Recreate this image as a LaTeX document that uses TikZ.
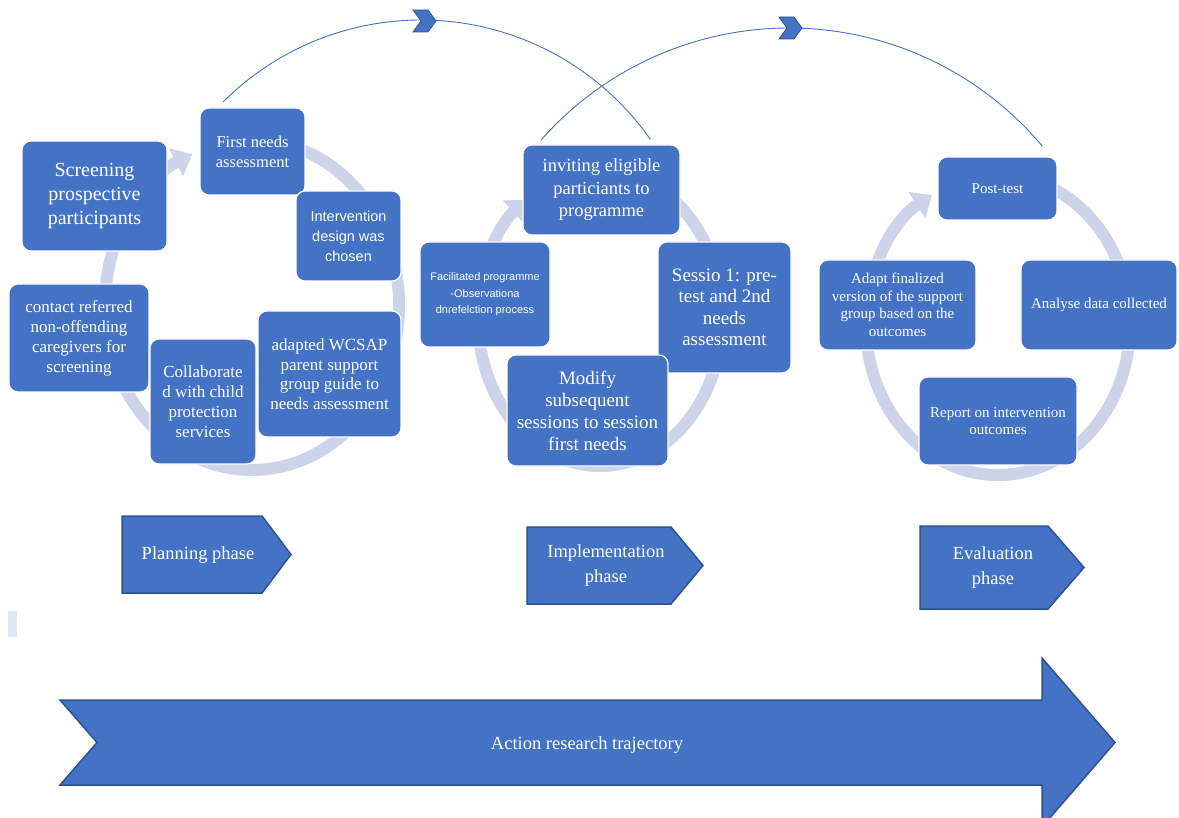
\documentclass[tikz,border=0pt]{standalone}
\usepackage{fontspec}
\setmainfont{Liberation Serif}
\setsansfont{Liberation Sans}
\usetikzlibrary{arrows.meta}
\definecolor{boxblue}{HTML}{4472C4}
\definecolor{ringblue}{HTML}{CDD4EA}
\definecolor{edgeblue}{HTML}{2F528F}
\definecolor{barblue}{HTML}{DDE7F7}
\newcommand{\fs}[2]{\fontsize{#1}{#2}\selectfont}

\begin{document}
\begin{tikzpicture}[x=1pt, y=-1pt,
	stepbox/.style={fill=boxblue, draw=white, line width=1.2pt, rounded corners=9pt, text=white, align=center, inner sep=2pt},
	ring/.style={ringblue, line width=12pt, -{Triangle[length=18pt,width=30pt]}},
	bogen/.style={boxblue, line width=0.9pt},
	chevron/.style={fill=boxblue, draw=edgeblue, line width=0.8pt, line join=miter},
	phase/.style={fill=boxblue, draw=edgeblue, line width=1.5pt},
	phasetext/.style={text=white, align=center, font=\fs{18.5}{25}}]
	\useasboundingbox (0,0) rectangle (1179,818);
	\clip (0,0) rectangle (1179,818);
	
	% Zyklen (Ringe)
	\draw[ring] (252,305) ++(-90:147 and 165) arc[start angle=-90, end angle=246, x radius=147, y radius=165];
	\draw[ring] (600,318) ++(-90:122 and 148) arc[start angle=-90, end angle=233, x radius=122, y radius=148];
	\draw[ring] (998,325) ++(-90:132 and 150) arc[start angle=-90, end angle=240, x radius=132, y radius=150];
	
	% Boegen oben
	\coordinate (m1) at (421,300);
	\coordinate (m2) at (789,358.6);
	\draw[bogen] (m1) ++(-135:280) arc[start angle=-135, end angle=-35, radius=280];
	\draw[bogen] (m2) ++(-138.6:330.6) arc[start angle=-138.6, end angle=-40, radius=330.6];
	\draw[chevron] (413,10) -- (428,10) -- (436,21) -- (428,32) -- (413,32) -- (421,21) -- cycle;
	\draw[chevron] (779,17) -- (794,17) -- (802,28) -- (794,39) -- (779,39) -- (787,28) -- cycle;
	
	% Planungsphase
	\node[stepbox, minimum width=145pt, minimum height=110pt, font=\fs{20}{24}] (screen) at (94.5,196) {Screening\\prospective\\participants};
	\node[stepbox, minimum width=105pt, minimum height=87pt, font=\fs{16.5}{20}] (firstneeds) at (252.5,151.5) {First needs\\assessment};
	\node[stepbox, minimum width=105pt, minimum height=90pt, font=\sffamily\fs{14.5}{20}] (design) at (348.5,236) {Intervention\\design was\\chosen};
	\node[stepbox, minimum width=140pt, minimum height=108pt, font=\fs{17}{20}] (contact) at (79,338) {contact referred\\non-offending\\caregivers for\\screening};
	\node[stepbox, minimum width=106pt, minimum height=125pt, font=\fs{17}{20}] (collab) at (203,401.5) {Collaborate\\d with child\\protection\\services};
	\node[stepbox, minimum width=143pt, minimum height=126pt, font=\fs{17}{19.5}] (wcsap) at (329.5,374) {adapted WCSAP\\parent support\\group guide to\\needs assessment};
	
	% Umsetzungsphase
	\node[stepbox, minimum width=157pt, minimum height=90pt, font=\fs{18.5}{22.5}] (invite) at (601.5,190) {inviting eligible\\particiants to\\programme};
	\node[stepbox, minimum width=130pt, minimum height=105pt, font=\sffamily\fs{11}{16.5}] (facil) at (485,294.5) {Facilitated programme\\-Observationa\\dnrefelction process};
	\node[stepbox, minimum width=133pt, minimum height=131pt, font=\fs{19}{21.5}] (session) at (724.5,307.5) {Sessio 1: pre-\\test and 2nd\\needs\\assessment};
	\node[stepbox, minimum width=161pt, minimum height=111pt, font=\fs{19}{22}] (modify) at (587.5,410.5) {Modify\\subsequent\\sessions to session\\first needs};
	
	% Evaluationsphase
	\node[stepbox, minimum width=119pt, minimum height=63pt, font=\fs{15}{17}] (posttest) at (997.5,188.5) {Post-test};
	\node[stepbox, minimum width=156pt, minimum height=90pt, font=\fs{15}{17}] (analyse) at (1099,305) {Analyse data collected};
	\node[stepbox, minimum width=157pt, minimum height=90pt, font=\fs{15}{17.5}] (adapt) at (897.5,305) {Adapt finalized\\version of the support\\group based on the\\outcomes};
	\node[stepbox, minimum width=158pt, minimum height=88pt, font=\fs{15}{16.5}] (report) at (998,421) {Report on intervention\\outcomes};
	
	% Phasen
	\draw[phase] (122,516) -- (262,516) -- (291,554.5) -- (262,593) -- (122,593) -- cycle;
	\node[phasetext] (planning) at (198,555) {Planning phase};
	\draw[phase] (527,527) -- (671,527) -- (703,565.5) -- (671,604) -- (527,604) -- cycle;
	\node[phasetext] (implementation) at (606,566) {Implementation\\phase};
	\draw[phase] (920,526) -- (1048,526) -- (1084,567.5) -- (1048,609) -- (920,609) -- cycle;
	\node[phasetext] (evaluation) at (993,568) {Evaluation\\phase};
	\fill[barblue] (8,611) rectangle (17,637);
	
	% Forschungspfeil
	\draw[phase] (60,700) -- (1042,700) -- (1042,658) -- (1115,742.5) -- (1042,827) -- (1042,785) -- (60,785) -- (97,742.5) -- cycle;
	\node[phasetext, font=\fs{18.5}{22}] (trajectory) at (587,745) {Action research trajectory};
\end{tikzpicture}
\end{document}
